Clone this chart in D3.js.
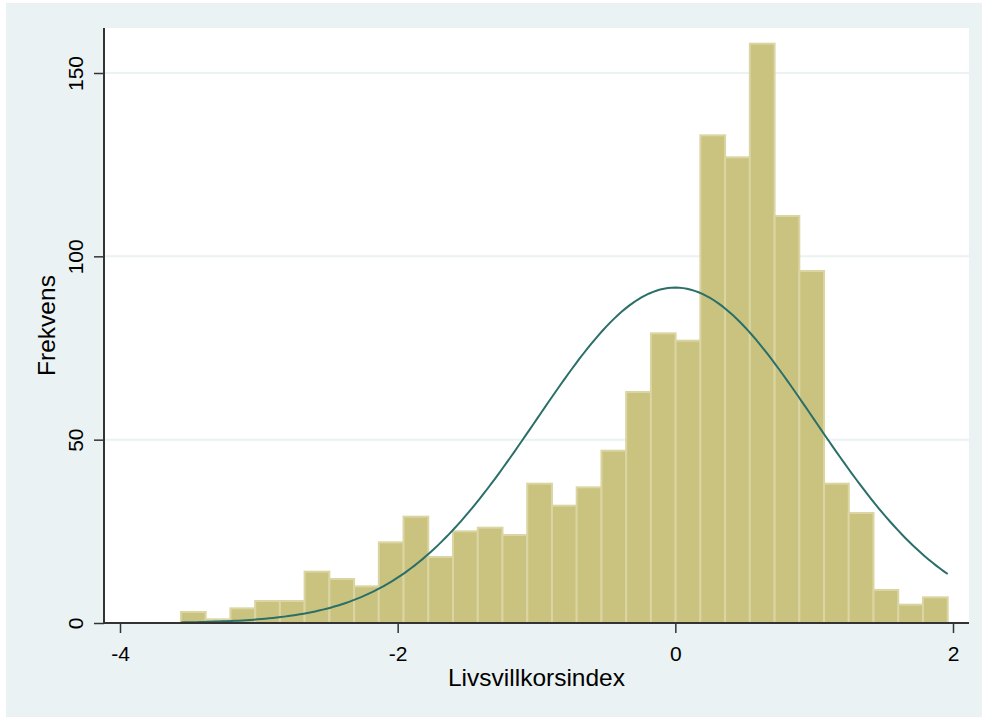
<!DOCTYPE html>
<html>
<head>
<meta charset="utf-8">
<script src="https://cdn.jsdelivr.net/npm/d3@7"></script>
<style>
  body { margin: 0; background: #fff; }
  text { font-family: "Liberation Sans", Arial, Helvetica, sans-serif; fill: #000; }
</style>
</head>
<body>
<script>
// histogram counts, one per bin (left to right)
var counts = [3, 1, 4, 6, 6, 14, 12, 10, 22, 29, 18, 25, 26, 24, 38, 32, 37, 47,
              63, 79, 77, 133, 127, 158, 111, 96, 38, 30, 9, 5, 7];
var binStart = -3.561;
var binWidth = 0.17816;

// fitted normal curve parameters
var normMean = 0;
var normSd = 1;

var xTicks = [-4, -2, 0, 2];
var yTicks = [0, 50, 100, 150];
var xTitle = "Livsvillkorsindex";
var yTitle = "Frekvens";

var svgWidth = 982, svgHeight = 717;
var plot = {left: 104, right: 969, top: 28, bottom: 623};

var svg = d3.select("body").append("svg")
    .attr("width", svgWidth).attr("height", svgHeight);

// outer graph region + plot region
svg.append("rect").attr("x", 6).attr("y", 3)
    .attr("width", svgWidth - 6).attr("height", svgHeight - 3)
    .attr("fill", "#EAF2F3");
svg.append("rect").attr("x", plot.left).attr("y", plot.top)
    .attr("width", plot.right - plot.left).attr("height", plot.bottom - plot.top)
    .attr("fill", "#fff");

var x = d3.scaleLinear().domain([-4, 2]).range([120, 953]);
var y = d3.scaleLinear().domain([0, 150]).range([plot.bottom, 73]);

// grid lines
svg.append("g").selectAll("line")
    .data(yTicks.filter(function(d) { return d > 0; }))
    .enter().append("line")
      .attr("x1", plot.left).attr("x2", plot.right)
      .attr("y1", function(d) { return y(d); })
      .attr("y2", function(d) { return y(d); })
      .attr("stroke", "#EAF2F3").attr("stroke-width", 2);

// bars
var bins = counts.map(function(c, i) {
  return {x0: binStart + i * binWidth, x1: binStart + (i + 1) * binWidth, n: c};
});

svg.append("g").selectAll("rect")
    .data(bins)
    .enter().append("rect")
      .attr("x", function(d) { return x(d.x0); })
      .attr("width", function(d) { return x(d.x1) - x(d.x0); })
      .attr("y", function(d) { return y(d.n); })
      .attr("height", function(d) { return y(0) - y(d.n); })
      .attr("fill", "#CAC37F")
      .attr("stroke", "#DAD5A2")
      .attr("stroke-width", 2);

// normal density scaled to counts
var total = d3.sum(counts);
var binEnd = binStart + counts.length * binWidth;
var curvePts = d3.range(0, 201).map(function(i) {
  var xv = binStart + (binEnd - binStart) * i / 200;
  var z = (xv - normMean) / normSd;
  var dens = Math.exp(-0.5 * z * z) / (normSd * Math.sqrt(2 * Math.PI));
  return [xv, dens * total * binWidth];
});

svg.append("path")
    .datum(curvePts)
    .attr("fill", "none")
    .attr("stroke", "#2A6F69")
    .attr("stroke-width", 2)
    .attr("d", d3.line()
        .x(function(d) { return x(d[0]); })
        .y(function(d) { return y(d[1]); }));

// axes
var xAxis = svg.append("g")
    .attr("transform", "translate(0," + plot.bottom + ")")
    .call(d3.axisBottom(x).tickValues(xTicks).tickSize(10).tickSizeOuter(0)
        .tickFormat(d3.format("d")));
xAxis.select(".domain").remove();
xAxis.selectAll(".tick line").attr("stroke", "#333").attr("stroke-width", 1.5);
xAxis.selectAll(".tick text")
    .attr("y", 38).attr("dy", null)
    .style("font-size", "21px")
    .style("font-family", "'Liberation Sans', Arial, sans-serif")
    .text(function(d) { return d < 0 ? "-" + Math.abs(d) : d; });

var yAxis = svg.append("g")
    .attr("transform", "translate(" + plot.left + ",0)")
    .call(d3.axisLeft(y).tickValues(yTicks).tickSize(10).tickSizeOuter(0));
yAxis.select(".domain").remove();
yAxis.selectAll(".tick line").attr("stroke", "#333").attr("stroke-width", 1.5);
yAxis.selectAll(".tick text")
    .attr("x", null).attr("dy", null)
    .attr("text-anchor", "middle")
    .attr("transform", "translate(-21,0) rotate(-90)")
    .style("font-size", "21px")
    .style("font-family", "'Liberation Sans', Arial, sans-serif");

// axis lines
svg.append("line")
    .attr("x1", plot.left).attr("x2", plot.right)
    .attr("y1", plot.bottom).attr("y2", plot.bottom)
    .attr("stroke", "#333").attr("stroke-width", 2);
svg.append("line")
    .attr("x1", plot.left).attr("x2", plot.left)
    .attr("y1", plot.top).attr("y2", plot.bottom)
    .attr("stroke", "#333").attr("stroke-width", 2);

// titles
svg.append("text")
    .attr("x", (plot.left + plot.right) / 2).attr("y", 686)
    .attr("text-anchor", "middle")
    .style("font-size", "24.5px")
    .text(xTitle);

svg.append("text")
    .attr("text-anchor", "middle")
    .attr("transform", "translate(55," + ((plot.top + plot.bottom) / 2) + ") rotate(-90)")
    .style("font-size", "24.5px")
    .text(yTitle);
</script>
</body>
</html>
